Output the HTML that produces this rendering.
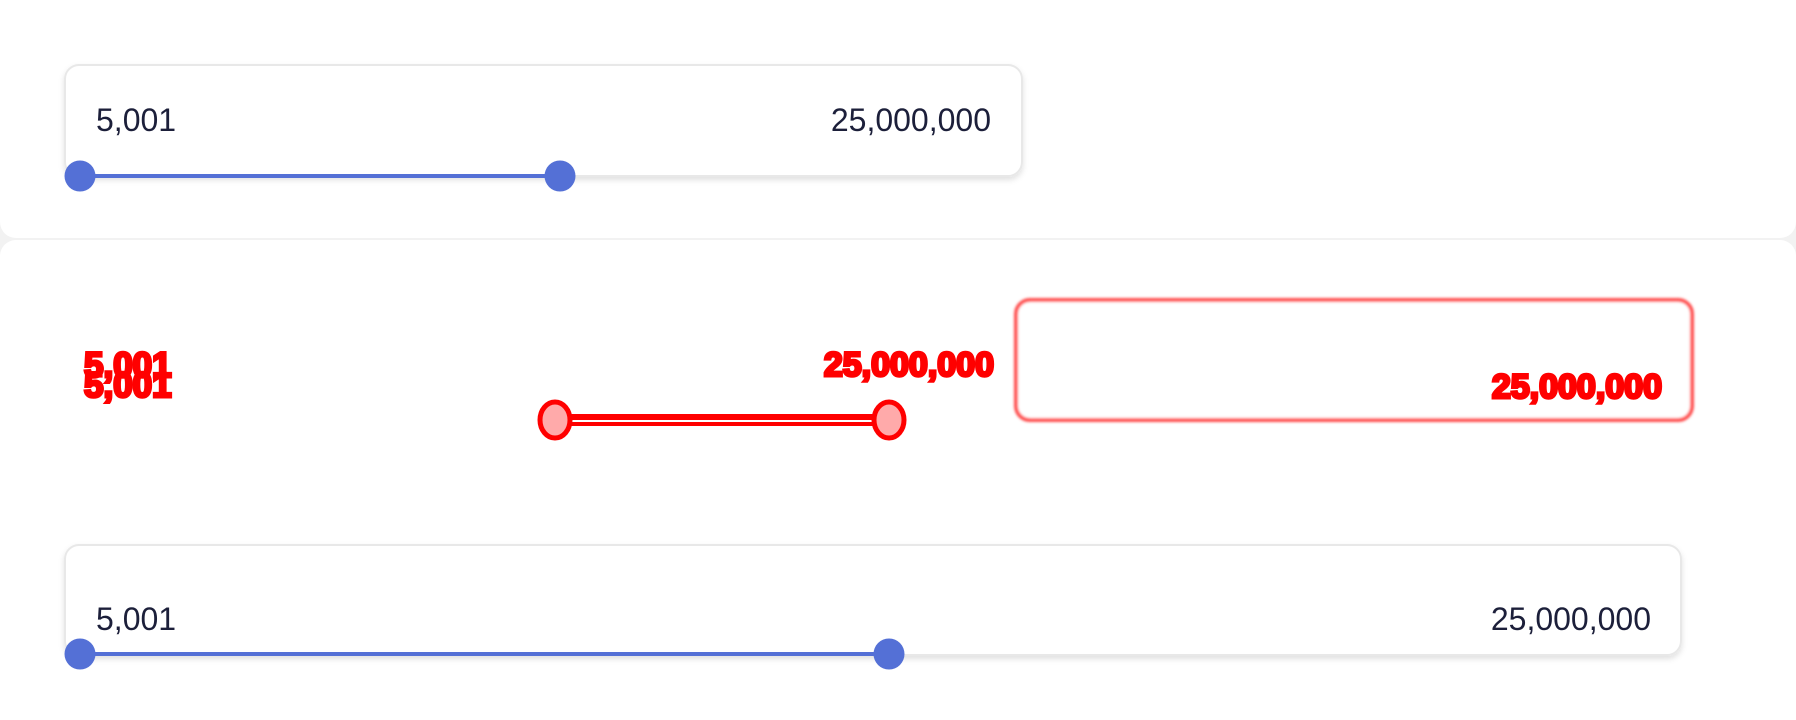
<!DOCTYPE html>
<html><head><meta charset="utf-8"><style>
html,body{margin:0;padding:0;background:#f2f2f2;width:1796px;height:720px;overflow:hidden;font-family:"Liberation Sans",sans-serif;}
svg{display:block}
</style></head><body>
<svg width="1796" height="720" viewBox="0 0 1796 720">
<defs>
<filter id="sh" x="-5%" y="-20%" width="110%" height="150%"><feDropShadow dx="0" dy="3" stdDeviation="3" flood-color="#000" flood-opacity="0.12"/></filter>
<filter id="bl"><feGaussianBlur stdDeviation="1.2"/></filter>
</defs>
<rect x="0" y="-20" width="1796" height="258" rx="16" fill="#fff"/>
<rect x="0" y="240" width="1796" height="500" rx="16" fill="#fff"/>

<g>
<rect x="65" y="65" width="957" height="111" rx="14" fill="#fff" stroke="#e8e8e8" stroke-width="2" filter="url(#sh)"/>
<text x="96" y="131" font-size="32" fill="#1c1f3a">5,001</text>
<text x="991" y="131" font-size="32" fill="#1c1f3a" text-anchor="end">25,000,000</text>
<line x1="80" y1="176" x2="560" y2="176" stroke="#5470d6" stroke-width="4"/>
<circle cx="80" cy="176" r="15.5" fill="#5470d6"/>
<circle cx="560" cy="176" r="15.5" fill="#5470d6"/>
</g>

<g>
<text x="84" y="377" font-size="35" font-weight="bold" fill="#ff0000" stroke="#ff0000" stroke-width="3">5,001</text>
<text x="84" y="397" font-size="35" font-weight="bold" fill="#ff0000" stroke="#ff0000" stroke-width="3">5,001</text>
<text x="994" y="376" font-size="34" font-weight="bold" fill="#ff0000" stroke="#ff0000" stroke-width="3" text-anchor="end">25,000,000</text>
<rect x="1016" y="300" width="676" height="120" rx="14" fill="#fff" stroke="#ff5050" stroke-width="4" filter="url(#bl)"/>
<text x="1662" y="398" font-size="34" font-weight="bold" fill="#ff0000" stroke="#ff0000" stroke-width="3" text-anchor="end">25,000,000</text>
<line x1="555" y1="420" x2="889" y2="420" stroke="#ff0000" stroke-width="12"/>
<line x1="570" y1="421" x2="875" y2="421" stroke="#fff" stroke-width="2"/>
<ellipse cx="555" cy="420" rx="15" ry="18" fill="#ffaaaa" stroke="#ff0000" stroke-width="5"/>
<ellipse cx="889" cy="420" rx="15" ry="18" fill="#ffaaaa" stroke="#ff0000" stroke-width="5"/>
</g>

<g>
<rect x="65" y="545" width="1616" height="110" rx="14" fill="#fff" stroke="#e8e8e8" stroke-width="2" filter="url(#sh)"/>
<text x="96" y="630" font-size="32" fill="#1c1f3a">5,001</text>
<text x="1651" y="630" font-size="32" fill="#1c1f3a" text-anchor="end">25,000,000</text>
<line x1="80" y1="654" x2="889" y2="654" stroke="#5470d6" stroke-width="4"/>
<circle cx="80" cy="654" r="15.5" fill="#5470d6"/>
<circle cx="889" cy="654" r="15.5" fill="#5470d6"/>
</g>
</svg>
</body></html>
